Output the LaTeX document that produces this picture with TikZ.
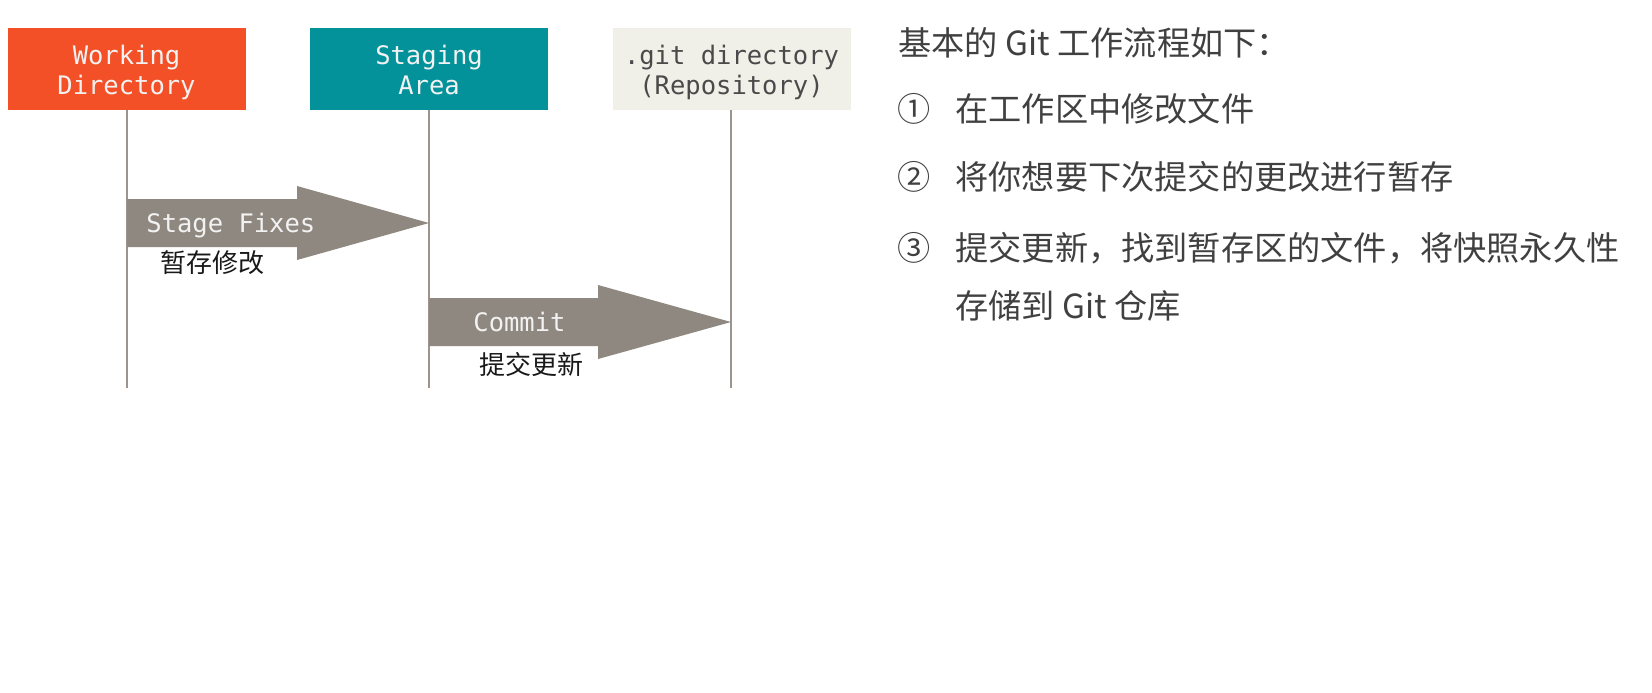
\documentclass[tikz,border=0pt]{standalone}
\usepackage{fontspec}
\setmonofont{DejaVu Sans Mono}
\newfontfamily\cjk{Noto Sans CJK SC}
\definecolor{wdorange}{HTML}{F35027}
\definecolor{sateal}{HTML}{03929A}
\definecolor{gitbg}{HTML}{F0EFE8}
\definecolor{gittext}{HTML}{4A4A4A}
\definecolor{lifeline}{HTML}{9C948D}
\definecolor{arrowgray}{HTML}{8F8880}
\definecolor{boxtext}{HTML}{F2F2F2}
\definecolor{bodytext}{HTML}{404040}
\newcommand\twolines[2]{\raisebox{-2pt}[\height][\depth]{\begin{tabular}{@{}c@{}}\strut#1\\\strut#2\end{tabular}}}
\tikzset{
  areabox/.style={rectangle, minimum width=119pt, minimum height=41pt, inner sep=0pt,
    align=center, font=\ttfamily\fontsize{12.75}{15}\selectfont},
  life/.style={draw=lifeline, line width=1pt},
  bigarrow/.style={fill=arrowgray},
  arrowlabel/.style={anchor=base west, inner sep=0pt, text=boxtext,
    font=\ttfamily\fontsize{12.75}{15}\selectfont},
  cnlabel/.style={anchor=center, inner sep=0pt, text=black!90,
    font=\cjk\fontsize{13}{15}\selectfont},
  bodyline/.style={anchor=base west, inner sep=0pt, text=bodytext,
    font=\cjk\fontsize{16.6}{20}\selectfont}
}
\begin{document}
\begin{tikzpicture}[x=0.5pt,y=-0.5pt]
\useasboundingbox (0,0) rectangle (1652,692);
% boxes
\node[areabox, fill=wdorange, text=boxtext] (wd) at (126.5,69) {\twolines{Working}{Directory}};
\node[areabox, fill=sateal, text=boxtext] (sa) at (429,69) {\twolines{Staging}{Area}};
\node[areabox, fill=gitbg, text=gittext] (git) at (731.5,69) {\twolines{.git directory}{(Repository)}};
% lifelines
\coordinate (wdend) at (127,388);
\coordinate (saend) at (429,388);
\coordinate (gitend) at (731,388);
\draw[life] (wd.south -| wdend) -- (wdend);
\draw[life] (sa.south -| saend) -- (saend);
\draw[life] (git.south -| gitend) -- (gitend);
% Stage Fixes arrow
\fill[bigarrow] (wdend |- 0,199) -- (297,199) -- (297,186) -- (saend |- 0,223)
  -- (297,260) -- (297,247) -- (wdend |- 0,247) -- cycle;
\node[arrowlabel] (stagefix) at (146,232) {Stage Fixes};
\node[cnlabel] (stagecn) at (212,263) {暂存修改};
% Commit arrow
\fill[bigarrow] (saend |- 0,298) -- (598,298) -- (598,285) -- (gitend |- 0,322)
  -- (598,359) -- (598,346) -- (saend |- 0,346) -- cycle;
\node[arrowlabel] (commit) at (473,331) {Commit};
\node[cnlabel] (commitcn) at (531,365) {提交更新};
% right text
\node[bodyline] (title) at (898,55) {基本的 Git 工作流程如下：};
\node[bodyline] (n1) at (897,121) {①};
\node[bodyline] (t1) at (955,121) {在工作区中修改文件};
\node[bodyline] (n2) at (897,189) {②};
\node[bodyline] (t2) at (955,189) {将你想要下次提交的更改进行暂存};
\node[bodyline] (n3) at (897,260) {③};
\node[bodyline] (t3) at (955,260) {提交更新，找到暂存区的文件，将快照永久性};
\node[bodyline] (t4) at (955,318) {存储到 Git 仓库};
\end{tikzpicture}
\end{document}
